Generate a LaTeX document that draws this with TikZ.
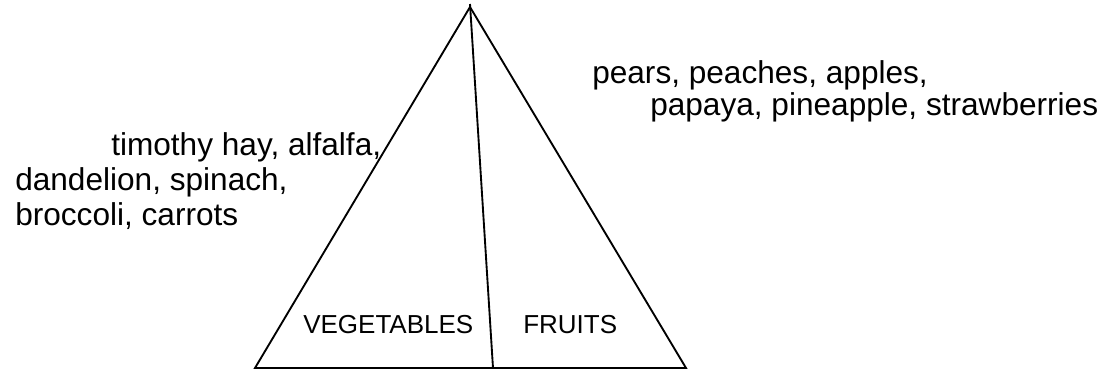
\documentclass[tikz,border=0pt]{standalone}
\usepackage{fontspec}
\setmainfont{Liberation Sans}
\usepackage{tikz}
\usetikzlibrary{positioning, calc}
\tikzset{
  % Food list text
  foodtxt/.style={
    anchor=base west, inner sep=0pt,
    font=\fontsize{23.7}{27}\selectfont
  },
  % Group label inside the pyramid
  grouplbl/.style={
    anchor=base west, inner sep=0pt,
    font=\fontsize{19.5}{23}\selectfont
  },
  % Pyramid outline
  pyr/.style={line width=1.4pt, line join=miter},
}

\begin{document}
\begin{tikzpicture}[x=0.75pt, y=-0.75pt]
  \useasboundingbox (0,0) rectangle (1106,371);

  %% Pyramid corners
  \coordinate (apex) at (470,7);
  \coordinate (top)  at (470,4);
  \coordinate (bl)   at (255,368);
  \coordinate (br)   at (686,368);
  \coordinate (mid)  at (493,368);

  \draw[pyr] (apex) -- (bl) -- (br) -- cycle;
  \draw[pyr] (top) -- (mid);

  %% Groups
  \node[grouplbl] (veg) at (303,333) {VEGETABLES};
  \node[grouplbl] (fru) at (523,333) {FRUITS};

  %% Fruits list
  \node[foodtxt] (fr1) at (592,83)  {pears, peaches, apples,};
  \node[foodtxt] (fr2) at (650,115) {papaya, pineapple, strawberries};

  %% Vegetables list
  \node[foodtxt] (vg1) at (111,155) {timothy hay, alfalfa,};
  \node[foodtxt] (vg2) at (15,190)  {dandelion, spinach,};
  \node[foodtxt] (vg3) at (15,225)  {broccoli, carrots};
\end{tikzpicture}
\end{document}
